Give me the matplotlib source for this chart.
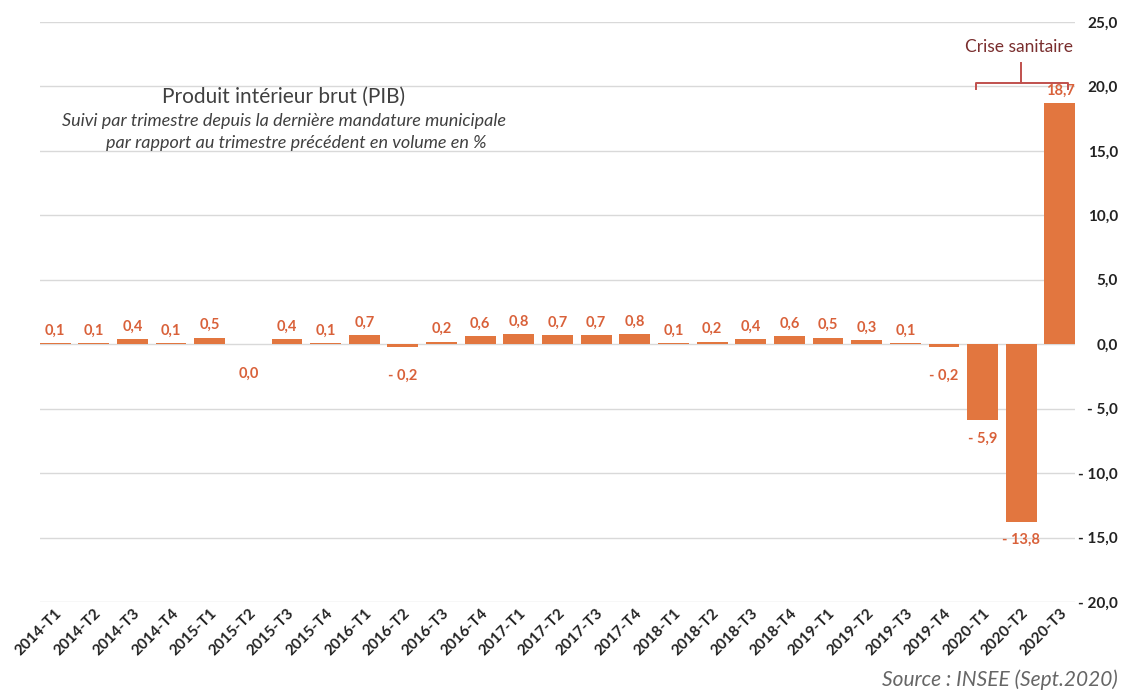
import matplotlib
matplotlib.use("Agg")
import matplotlib.pyplot as plt
from matplotlib.lines import Line2D

quarters = ["2014-T1", "2014-T2", "2014-T3", "2014-T4",
            "2015-T1", "2015-T2", "2015-T3", "2015-T4",
            "2016-T1", "2016-T2", "2016-T3", "2016-T4",
            "2017-T1", "2017-T2", "2017-T3", "2017-T4",
            "2018-T1", "2018-T2", "2018-T3", "2018-T4",
            "2019-T1", "2019-T2", "2019-T3", "2019-T4",
            "2020-T1", "2020-T2", "2020-T3"]
pib = [0.1, 0.1, 0.4, 0.1,
       0.5, 0.0, 0.4, 0.1,
       0.7, -0.2, 0.2, 0.6,
       0.8, 0.7, 0.7, 0.8,
       0.1, 0.2, 0.4, 0.6,
       0.5, 0.3, 0.1, -0.2,
       -5.9, -13.8, 18.7]
yticks = [-20, -15, -10, -5, 0, 5, 10, 15, 20, 25]

plt.rcParams["font.family"] = ["Lato", "DejaVu Sans"]

W, H = 1122, 691
fig = plt.figure(figsize=(W / 100, H / 100), dpi=100)
ax = fig.add_axes([40 / W, 1 - 602 / H, (1075 - 40) / W, (602 - 22) / H])

bar_color = "#E2763F"
label_color = "#D9613A"

x = list(range(len(quarters)))
ax.bar(x, pib, width=0.8, color=bar_color, zorder=3)

def fr(v):
    s = f"{abs(v):.1f}".replace(".", ",")
    return ("- " + s) if v < 0 else s

for xi, v in zip(x, pib):
    if v > 0:
        ax.annotate(fr(v), (xi, v), xytext=(0, 4), textcoords="offset points",
                    ha="center", va="bottom", fontsize=10.5, fontweight="bold",
                    color=label_color, zorder=4)
    else:
        off = -16 if abs(v) < 1 else -8
        ax.annotate(fr(v), (xi, v), xytext=(0, off), textcoords="offset points",
                    ha="center", va="top", fontsize=10.5, fontweight="bold",
                    color=label_color, zorder=4)

ax.set_xlim(-0.39, 26.39)
ax.set_ylim(-20, 25)
ax.set_yticks(yticks)
ax.set_yticklabels([fr(v) for v in yticks])
ax.yaxis.tick_right()
ax.tick_params(axis="y", length=0, pad=31, labelsize=11, labelcolor="#222222")
for lab in ax.get_yticklabels():
    lab.set_horizontalalignment("right")
    lab.set_fontweight("bold")
ax.grid(axis="y", color="#D9D9D9", linewidth=1.0, zorder=0)

ax.set_xticks(x)
ax.set_xticklabels(quarters, rotation=45, ha="right", rotation_mode="anchor",
                   fontsize=11, fontweight="bold", color="#222222")
ax.tick_params(axis="x", length=0, pad=3)

for s in ax.spines.values():
    s.set_visible(False)

# Titles
fig.text(284 / W, 1 - 97 / H, "Produit intérieur brut (PIB)", ha="center",
         va="center", fontsize=15, color="#404040")
fig.text(284 / W, 1 - 121 / H, "Suivi par trimestre depuis la dernière mandature municipale",
         ha="center", va="center", fontsize=13, style="italic", color="#404040")
fig.text(296 / W, 1 - 143 / H, "par rapport au trimestre précédent en volume en %",
         ha="center", va="center", fontsize=13, style="italic", color="#404040")

# Bracket marking the health crisis quarters
bc = "#C0504D"

def px(xp, yp):
    return xp / W, 1 - yp / H

bx = [px(976, 89), px(976, 83), px(1068, 83), px(1068, 89)]
fig.add_artist(Line2D([p[0] for p in bx], [p[1] for p in bx], color=bc, lw=1.4))
stem = [px(1021, 83), px(1021, 63)]
fig.add_artist(Line2D([p[0] for p in stem], [p[1] for p in stem], color=bc, lw=1.4))
fig.text(1019 / W, 1 - 47 / H, "Crise sanitaire", ha="center", va="center",
         fontsize=12.5, color="#7A2E2E")

fig.text(1118 / W, 1 - 680 / H, "Source : INSEE (Sept.2020)", ha="right",
         va="center", fontsize=15, style="italic", color="#666666")

fig.savefig("out.png", dpi=100, facecolor="white")
